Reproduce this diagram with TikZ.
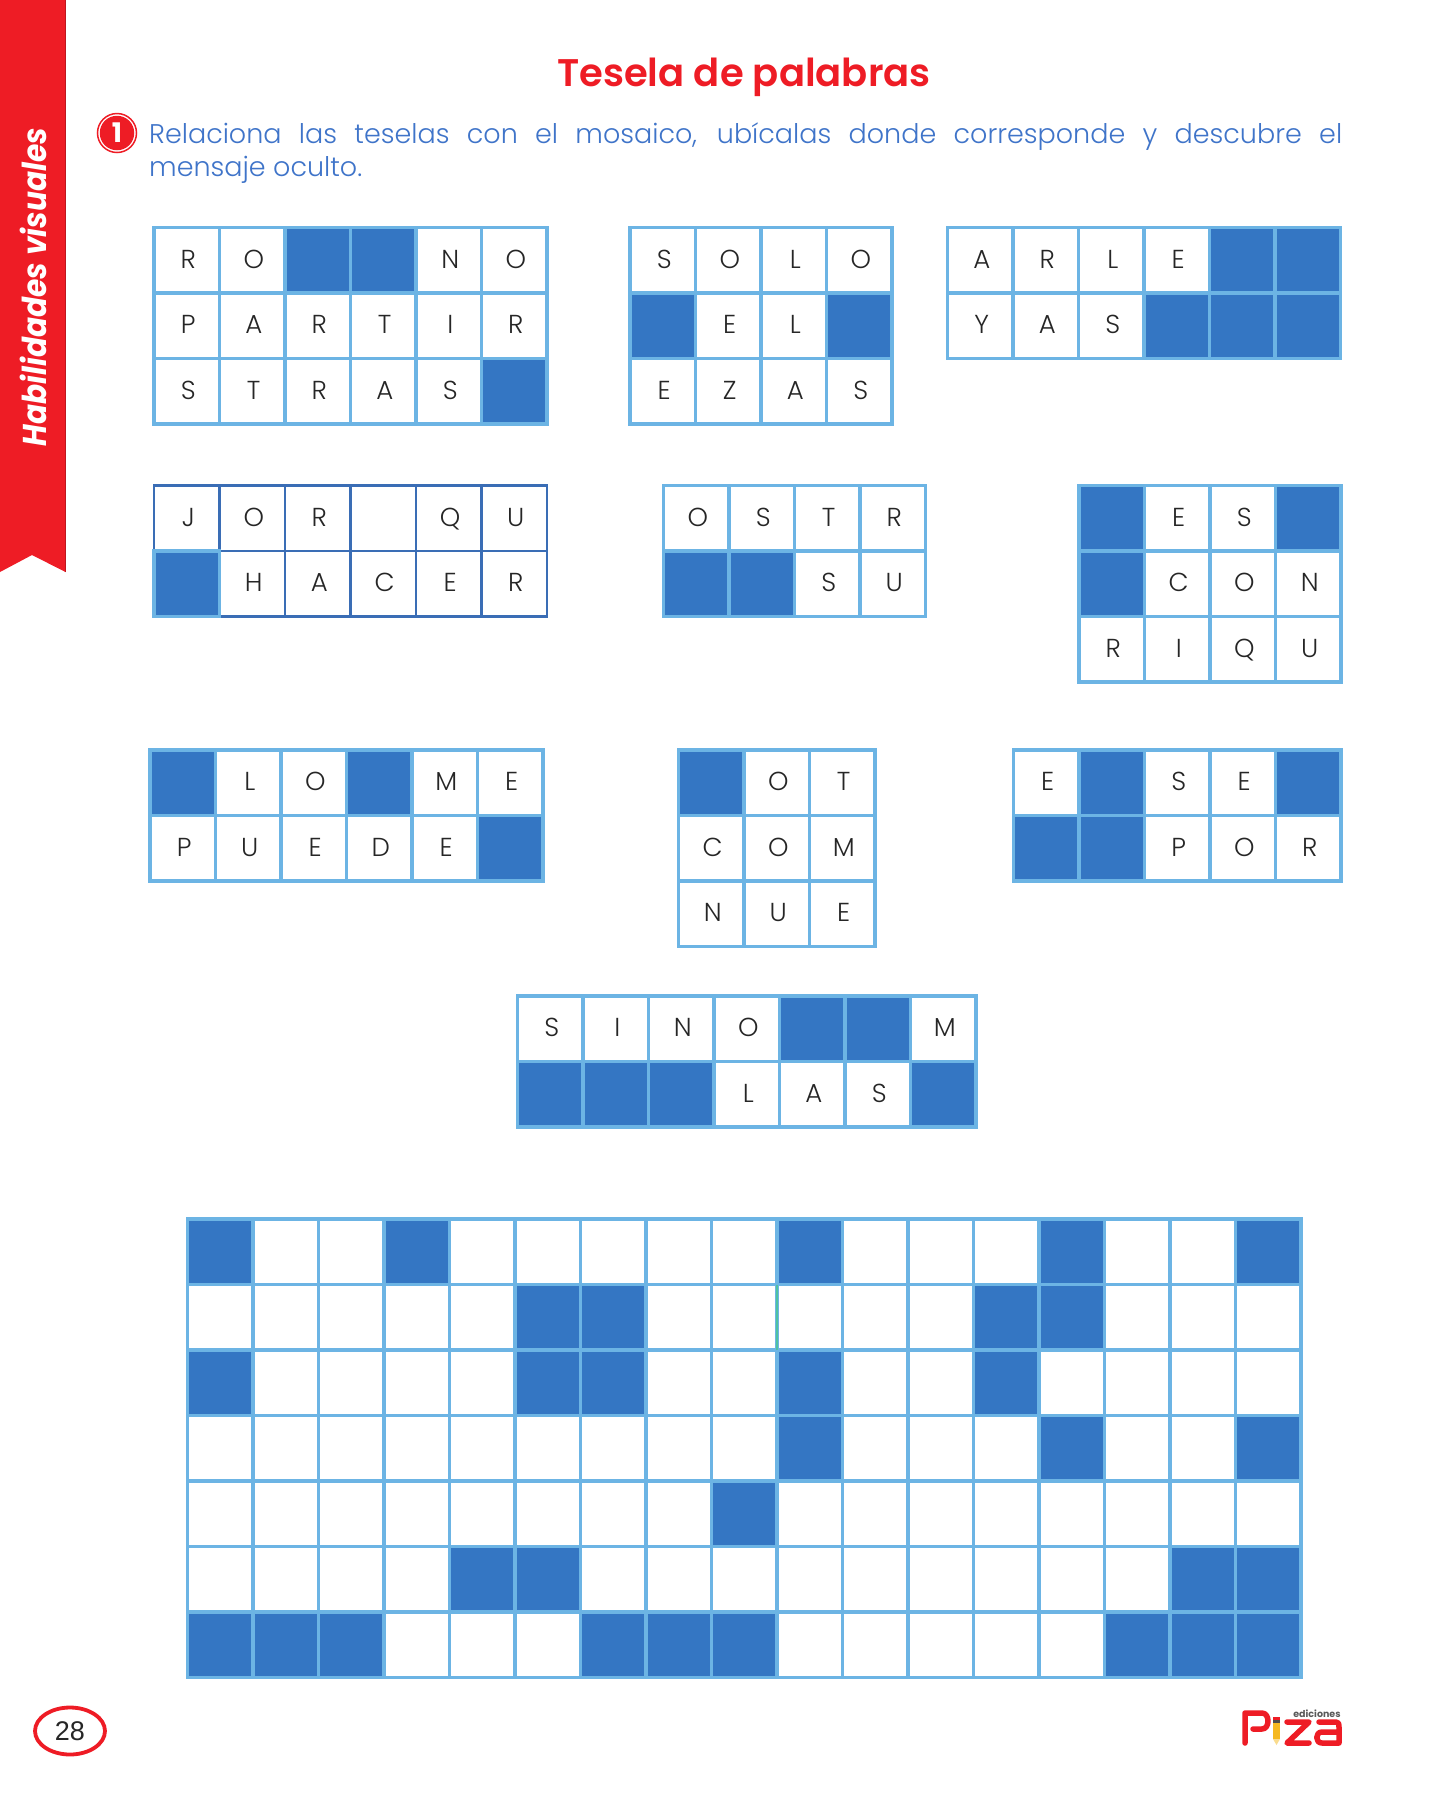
\documentclass[tikz,border=0pt]{standalone}
\usepackage{fontspec}
\usetikzlibrary{shapes.geometric}
\setmainfont{Poppins}
\newfontfamily\lightf[UprightFont=* Light,BoldFont=* Bold]{Poppins}
\newfontfamily\semif[UprightFont=* SemiBold]{Poppins}
\newfontfamily\arialf{Liberation Sans}
\definecolor{ribbon}{HTML}{EE1C25}
\definecolor{lineblue}{HTML}{6CB4E4}
\definecolor{deepline}{HTML}{3A6DB5}
\definecolor{cellblue}{HTML}{3476C3}
\definecolor{inktext}{HTML}{3F74C9}
\definecolor{lettergray}{HTML}{262626}
\definecolor{greenline}{HTML}{4FC3A1}
\definecolor{pencil}{HTML}{F5B81F}
\tikzset{
  cellbase/.style={rectangle,minimum width=65.5pt,minimum height=65.5pt,inner sep=0pt,outer sep=0pt},
  whitecell/.style={cellbase,draw=lineblue,line width=3.6pt,fill=white,text=lettergray,
     font=\lightf\fontsize{26}{26}\selectfont,text height=16pt,text depth=0pt},
  deepcell/.style={whitecell,draw=deepline,line width=2.4pt},
  bluecell/.style={cellbase,draw=lineblue,line width=3.6pt,fill=cellblue},
  logostroke/.style={draw=ribbon,line width=5.5pt,line cap=round,line join=round},
}
% name, left, top, style of white cells, rows
\newcommand{\tesela}[5]{%
  \foreach \rowlist [count=\rj] in {#5}{%
    \foreach \cellch [count=\ci] in \rowlist{%
      \if\cellch*\else
        \if\cellch-\node[#4] (#1-\rj-\ci) at ({#2+(\ci-0.5)*65.5},{#3+(\rj-0.5)*65.5}) {};%
        \else\node[#4] (#1-\rj-\ci) at ({#2+(\ci-0.5)*65.5},{#3+(\rj-0.5)*65.5}) {\hspace*{3pt}\cellch};\fi
      \fi}}%
  \foreach \rowlist [count=\rj] in {#5}{%
    \foreach \cellch [count=\ci] in \rowlist{%
      \if\cellch*\node[bluecell] (#1-\rj-\ci) at ({#2+(\ci-0.5)*65.5},{#3+(\rj-0.5)*65.5}) {};\fi}}%
}
\begin{document}
\begin{tikzpicture}[x=1pt,y=-1pt]
\useasboundingbox (0,0) rectangle (1439,1800);
\fill[white] (0,0) rectangle (1439,1800);
% ribbon
\fill[ribbon] (0,0) -- (65.5,0) -- (65.5,572) -- (32,555) -- (0,572) -- cycle;
\draw[ribbon!80!black,line width=1pt] (65,0) -- (65,572);
\node[rotate=90,text=white,inner sep=0pt,font=\bfseries\itshape\fontsize{33}{33}\selectfont] (ribbonlabel) at (33,287) {\scalebox{0.9}[1]{Habilidades visuales}};
% title
\node[text=ribbon,inner sep=0pt,font=\semif\fontsize{38.5}{38.5}\selectfont] (title) at (744,77) {Tesela de palabras};
% badge
\node[circle,draw=ribbon,line width=1.5pt,minimum size=39pt,inner sep=0pt,outer sep=0pt] (badgering) at (117,133) {};
\node[circle,fill=ribbon,minimum size=34.5pt,inner sep=0pt,outer sep=0pt,text=white,font=\bfseries\fontsize{27}{27}\selectfont] (badge) at (117,133) {1};
% instruction
\node[anchor=north west,text width=1193pt,align=justify,inner sep=0pt,text=inktext,font=\lightf\fontsize{27}{33.5}\selectfont] (instr) at (149,122.5)
  {Relaciona las teselas con el mosaico, ubícalas donde corresponde y descubre el\linebreak mensaje oculto.};
% tiles
\tesela{ta}{154}{227.5}{whitecell}{{R,O,*,*,N,O},{P,A,R,T,I,R},{S,T,R,A,S,*}}
\tesela{tb}{630}{227.5}{whitecell}{{S,O,L,O},{*,E,L,*},{E,Z,A,S}}
\tesela{tc}{947.5}{227.5}{whitecell}{{A,R,L,E,*,*},{Y,A,S,*,*,*}}
\tesela{td}{154}{485.5}{deepcell}{{J,O,R,-,Q,U},{*,H,A,C,E,R}}
\tesela{te}{663.5}{485.5}{whitecell}{{O,S,T,R},{*,*,S,U}}
\tesela{tf}{1079}{485.5}{whitecell}{{*,E,S,*},{*,C,O,N},{R,I,Q,U}}
\tesela{tg}{150}{750}{whitecell}{{*,L,O,*,M,E},{P,U,E,D,E,*}}
\tesela{th}{678.5}{750}{whitecell}{{*,O,T},{C,O,M},{N,U,E}}
\tesela{ti}{1013.5}{750}{whitecell}{{E,*,S,E,*},{*,*,P,O,R}}
\tesela{tj}{517.5}{996}{whitecell}{{S,I,N,O,*,*,M},{*,*,*,L,A,S,*}}
% mosaic
\tesela{mo}{187.5}{1219}{whitecell}{
 {*,-,-,*,-,-,-,-,-,*,-,-,-,*,-,-,*},
 {-,-,-,-,-,*,*,-,-,-,-,-,*,*,-,-,-},
 {*,-,-,-,-,*,*,-,-,*,-,-,*,-,-,-,-},
 {-,-,-,-,-,-,-,-,-,*,-,-,-,*,-,-,*},
 {-,-,-,-,-,-,-,-,*,-,-,-,-,-,-,-,-},
 {-,-,-,-,*,*,-,-,-,-,-,-,-,-,-,*,*},
 {*,*,*,-,-,-,*,*,*,-,-,-,-,-,*,*,*}}
\draw[greenline,line width=1.5pt] (mo-2-10.north west) -- (mo-2-10.south west);
% page number
\node[ellipse,draw=ribbon,line width=3.8pt,minimum width=70pt,minimum height=47pt,inner sep=0pt,text=lettergray,font=\arialf\fontsize{27}{27}\selectfont] (page) at (70,1731) {28};
% logo
\draw[logostroke] (1245,1743) -- (1245,1713) -- (1262,1713) .. controls (1270,1713) and (1270,1729) .. (1262,1729) -- (1253,1729);
\fill[pencil] (1273,1720) rectangle (1280,1739);
\fill[ribbon] (1273,1717) rectangle (1280,1720);
\fill[black!70] (1273,1720) rectangle (1280,1723);
\fill[pencil!50!white] (1273,1739) -- (1280,1739) -- (1276.5,1745) -- cycle;
\draw[logostroke] (1287,1722) -- (1309,1722) -- (1287,1743) -- (1309,1743);
\draw[logostroke] (1319,1722) -- (1336,1722) .. controls (1339,1722) and (1339,1724) .. (1339,1727) -- (1339,1743) -- (1322,1743) .. controls (1315,1743) and (1315,1732) .. (1322,1732) -- (1339,1732);
\node[text=black!65,inner sep=0pt,font=\bfseries\fontsize{9.5}{9.5}\selectfont] (edic) at (1317,1714) {ediciones};
\end{tikzpicture}
\end{document}
